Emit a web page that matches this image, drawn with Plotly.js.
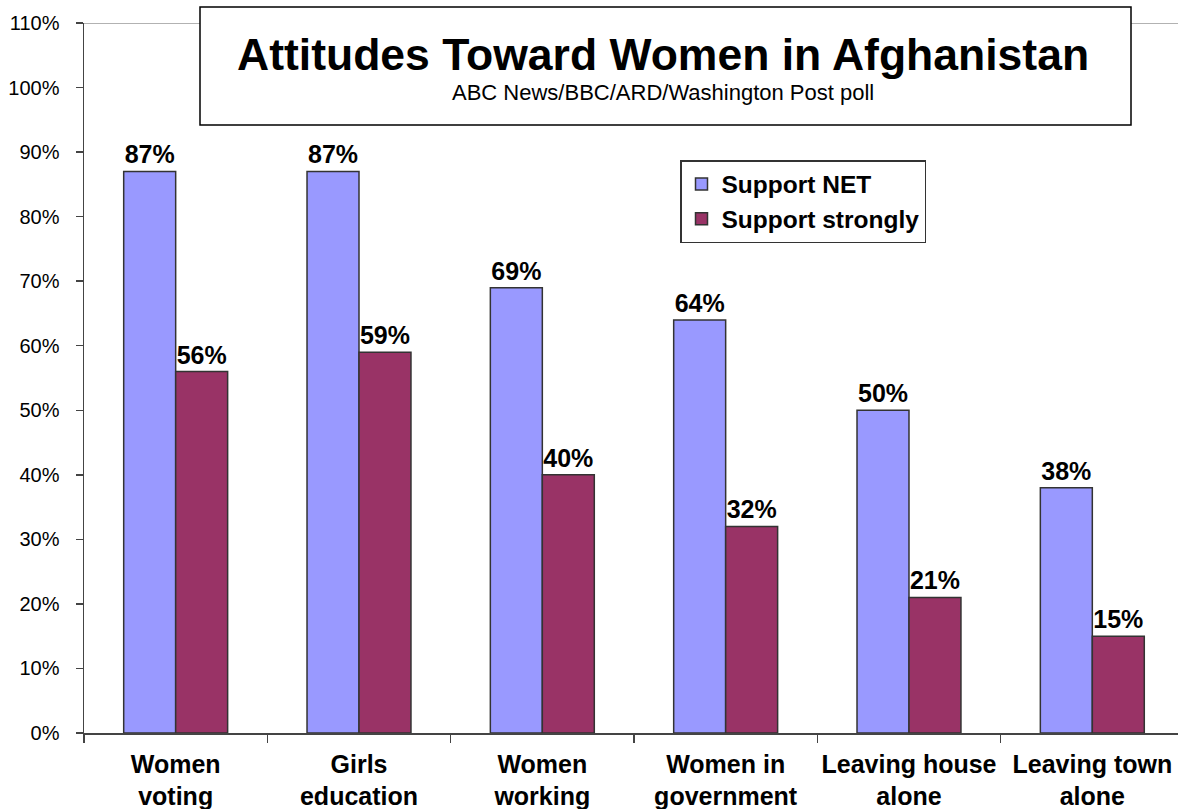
<!DOCTYPE html>
<html>
<head>
<meta charset="utf-8">
<script src="https://cdn.plot.ly/plotly-3.0.1.min.js"></script>
<style>
html,body{margin:0;padding:0;overflow:hidden;background:#fff;}
#chart{width:1178px;height:809px;}
</style>
</head>
<body>
<div id="chart"></div>
<script>
const categories = ["Women<br>voting", "Girls<br>education", "Women<br>working", "Women in<br>government", "Leaving house<br>alone", "Leaving town<br>alone"];
const supportNet = [0.87, 0.87, 0.69, 0.64, 0.50, 0.38];
const supportStrongly = [0.56, 0.59, 0.40, 0.32, 0.21, 0.15];
const seriesNames = ["Support NET", "Support strongly"];
const yTickVals = [0, 0.1, 0.2, 0.3, 0.4, 0.5, 0.6, 0.7, 0.8, 0.9, 1.0, 1.1];
const titleText = "Attitudes Toward Women in Afghanistan";
const subtitleText = "ABC News/BBC/ARD/Washington Post poll";

const FONT = "Arial, 'Liberation Sans', sans-serif";
const labelFont = {family: FONT, size: 25, color: "#000", weight: "bold"};

const traces = [
  {
    type: "bar", name: seriesNames[0], x: categories, y: supportNet,
    marker: {color: "#9999FF", line: {color: "#333", width: 1.5}},
    text: supportNet.map(v => Math.round(v * 100) + "%"),
    textposition: "outside", textfont: labelFont, constraintext: "none", cliponaxis: false,
    hoverinfo: "skip"
  },
  {
    type: "bar", name: seriesNames[1], x: categories, y: supportStrongly,
    marker: {color: "#993366", line: {color: "#333", width: 1.5}},
    text: supportStrongly.map(v => Math.round(v * 100) + "%"),
    textposition: "outside", textfont: labelFont, constraintext: "none", cliponaxis: false,
    hoverinfo: "skip"
  }
];

const plotW = 1178 - 84;
const catW = 183.33;
const layout = {
  width: 1178, height: 809,
  margin: {l: 84, r: 0, t: 23, b: 76},
  paper_bgcolor: "#fff", plot_bgcolor: "#fff",
  barmode: "group", bargap: 0.433, bargroupgap: 0,
  showlegend: true,
  legend: {
    x: (680 - 84) / plotW, y: (733 - 160) / 710, xanchor: "left", yanchor: "top",
    bgcolor: "#fff", bordercolor: "#333", borderwidth: 1.5,
    font: {family: FONT, size: 24.5, color: "#000", weight: "bold"},
    itemwidth: 30,
    traceorder: "normal"
  },
  xaxis: {
    type: "category",
    range: [-0.5, -0.5 + plotW / catW],
    showline: true, linecolor: "#444", linewidth: 1.5,
    ticks: "outside", ticklen: 8, tickcolor: "#444", tickwidth: 1.5,
    tickson: "boundaries",
    tickangle: 0,
    tickfont: {family: FONT, size: 25, color: "#000", weight: "bold"},
    ticklabelstandoff: 8,
    showgrid: false, zeroline: false, fixedrange: true
  },
  yaxis: {
    range: [0, 1.1],
    tickvals: yTickVals, tickformat: ".0%",
    showline: true, linecolor: "#444", linewidth: 1.5,
    ticks: "outside", ticklen: 7, tickcolor: "#444", tickwidth: 1.5,
    tickfont: {family: FONT, size: 20, color: "#000"},
    ticklabelstandoff: 12,
    showgrid: false, zeroline: false, fixedrange: true
  },
  shapes: [
    {type: "line", xref: "paper", yref: "y", x0: 0, x1: 1, y0: 1.1, y1: 1.1,
     line: {color: "#999", width: 1.5}, layer: "below"},
    {type: "rect", xref: "paper", yref: "paper",
     x0: (200 - 84) / plotW, x1: (1131 - 84) / plotW,
     y0: (733 - 125) / 710, y1: (733 - 7) / 710,
     fillcolor: "#fff", line: {color: "#000", width: 1.5}, layer: "above"}
  ],
  annotations: [
    {text: titleText, xref: "paper", yref: "paper",
     x: (663 - 84) / plotW, y: (733 - 54) / 710, xanchor: "center", yanchor: "middle",
     showarrow: false, font: {family: FONT, size: 44.5, color: "#000", weight: "bold"}},
    {text: subtitleText, xref: "paper", yref: "paper",
     x: (663 - 84) / plotW, y: (733 - 93) / 710, xanchor: "center", yanchor: "middle",
     showarrow: false, font: {family: FONT, size: 22, color: "#000"}}
  ]
};

Plotly.newPlot("chart", traces, layout, {displayModeBar: false, staticPlot: true});
</script>
</body>
</html>
